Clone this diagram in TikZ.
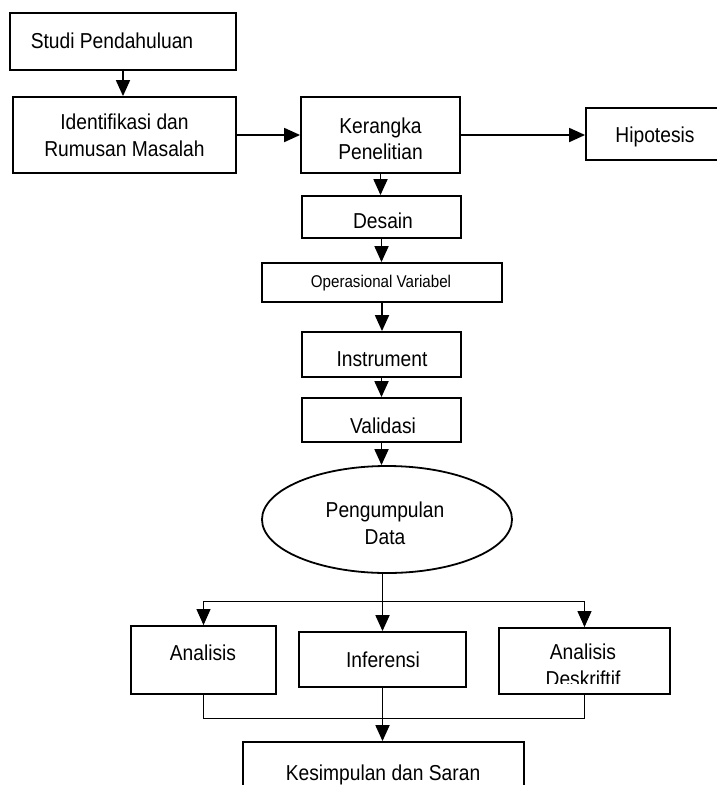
\documentclass[tikz,border=0pt]{standalone}
\usepackage{fontspec}
\setmainfont{Liberation Sans}[FakeStretch=0.89]
\usetikzlibrary{arrows.meta,shapes.geometric}
\begin{document}
\begin{tikzpicture}[x=1pt,y=-1pt,
  box/.style={draw, line width=1.8pt, rectangle, inner sep=0pt},
  oval/.style={draw, line width=1.8pt, ellipse, inner sep=0pt},
  lbl/.style={inner sep=0pt, anchor=base, font=\fontsize{21.6}{26.7}\selectfont},
  lbltwo/.style={inner sep=0pt, anchor=center, align=center, font=\fontsize{21.6}{26.7}\selectfont},
  lblsmall/.style={inner sep=0pt, anchor=base, font=\fontsize{17}{20}\selectfont},
  arr/.style={line width=1.8pt, -{Triangle[length=16pt,width=14pt]}},
  thinarr/.style={line width=1pt, -{Triangle[length=16pt,width=14pt]}},
  thinline/.style={line width=1pt}]
\useasboundingbox (0,0) rectangle (717,785);
\clip (0,0) rectangle (717,785);

% boxes
\node[box, minimum width=226, minimum height=57] (studi) at (123,41.5) {};
\node[box, minimum width=223, minimum height=76] (ident) at (124.5,135) {};
\node[box, minimum width=159, minimum height=76] (ker) at (380.5,135) {};
\node[box, minimum width=144, minimum height=52] (hip) at (658,134) {};
\node[box, minimum width=159, minimum height=42] (des) at (381.5,217) {};
\node[box, minimum width=240, minimum height=39] (ops) at (382,282.5) {};
\node[box, minimum width=159, minimum height=45] (ins) at (381.5,354.5) {};
\node[box, minimum width=159, minimum height=44] (val) at (381.5,420) {};
\node[oval, minimum width=250, minimum height=107] (pd) at (387,519.5) {};
\node[box, minimum width=145, minimum height=68] (ana) at (203.5,660) {};
\node[box, minimum width=167, minimum height=55] (inf) at (382.5,659.5) {};
\node[box, minimum width=171, minimum height=66] (desk) at (584.5,661) {};
\node[box, minimum width=281, minimum height=68] (kes) at (383.5,776) {};

% labels
\node[lbl] (studi-t) at (112,48) {Studi Pendahuluan};
\node[lbltwo] (ident-t) at (124.5,135.6) {Identifikasi dan\\Rumusan Masalah};
\node[lbltwo] (ker-t) at (380.5,138.8) {Kerangka\\Penelitian};
\node[lbl] (hip-t) at (655,142) {Hipotesis};
\node[lbl] (des-t) at (383,228) {Desain};
\node[lblsmall] (ops-t) at (381,287) {Operasional Variabel};
\node[lbl] (ins-t) at (382,366) {Instrument};
\node[lbl] (val-t) at (383,433) {Validasi};
\node[lbltwo] (pd-t) at (385,523.3) {Pengumpulan\\Data};
\node[lbl] (ana-t) at (203,660) {Analisis};
\node[lbl] (inf-t) at (383,667) {Inferensi};
\begin{scope}
  \clip (500,629) rectangle (669,683);
  \node[lbltwo] (desk-t) at (583,665.6) {Analisis\\Deskriftif};
\end{scope}
\node[lbl] (kes-t) at (383,780) {Kesimpulan dan Saran};

% connectors
\draw[arr] (studi.south) -- (studi.south |- ident.north);
\draw[arr] (ident.east) -- (ker.west);
\draw[arr] (ker.east) -- (hip.west |- ker.east);
\draw[arr] (ker.south) -- (ker.south |- des.north);
\draw[arr] (des.south) -- (des.south |- ops.north);
\draw[arr] (ops.south) -- (ops.south |- ins.north);
\draw[arr] (ins.south) -- (ins.south |- val.north);
\draw[arr] (val.south) -- (val.south |- pd.north);
\draw[arr] (pd.south -| inf.north) -- (inf.north);
\coordinate (br) at (382.5,601);
\draw[thinarr] (br) -| (ana.north);
\draw[thinarr] (br) -| (desk.north);
\draw[thinline] (ana.south) -- ++(0,24) -| (desk.south);
\draw[arr] (inf.south) -- (inf.south |- kes.north);
\end{tikzpicture}
\end{document}
